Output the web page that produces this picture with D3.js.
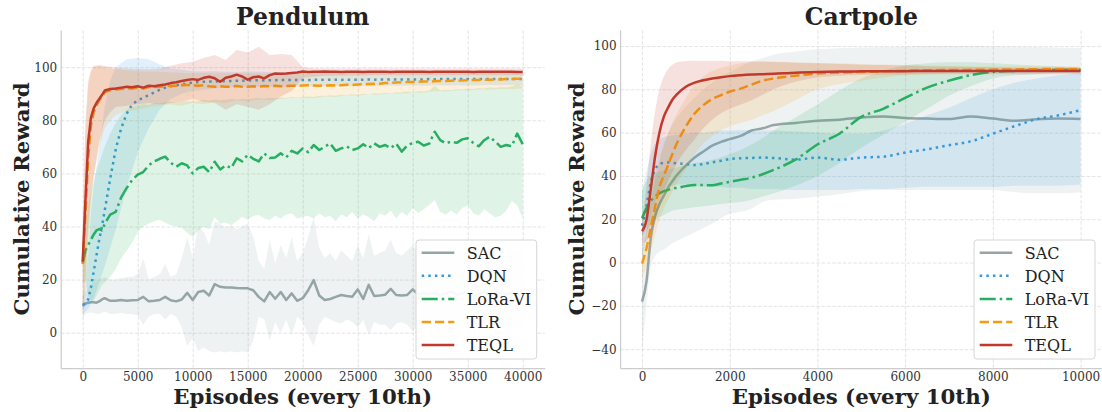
<!DOCTYPE html>
<html><head><meta charset="utf-8">
<script src="https://cdn.jsdelivr.net/npm/d3@7"></script>
<style>body{margin:0;background:#fff;} svg{display:block;}</style>
</head><body>
<svg id="chart" width="1102" height="412"></svg>
<script>
// ---------------- DATA ----------------
const SERIES = ["SAC", "DQN", "LoRa-VI", "TLR", "TEQL"];

// Pendulum
const P_X = [0,250,500,750,1000,1250,1500,1750,2000,
 2500,3000,3500,4000,4500,5000,5500,6000,6500,7000,7500,8000,8500,9000,9500,10000,
 10500,11000,11500,12000,12500,13000,13500,14000,14500,15000,15500,16000,16500,17000,17500,18000,18500,19000,19500,20000,
 20500,21000,21500,22000,22500,23000,23500,24000,24500,25000,25500,26000,26500,27000,27500,28000,28500,29000,29500,30000,
 30500,31000,31500,32000,32500,33000,33500,34000,34500,35000,35500,36000,36500,37000,37500,38000,38500,39000,39500,40000];
const PB_X = [0,250,500,750,1000,1500,2000,2500,3000,
 4000,5000,6000,7000,8000,9000,10000,11000,12000,13000,14000,15000,16000,17000,18000,19000,20000,
 21000,22000,23000,24000,25000,26000,27000,28000,29000,30000,31000,32000,33000,34000,35000,36000,37000,38000,39000,40000];

const P_SAC = [10,11,11.3,11.5,11.5,11.3,11.8,12.5,13,
 12,12,12.3,12,12.2,12.3,13.5,11.8,12,12.3,13.5,12.2,11.8,12.5,15,12.3,
 15.3,15.8,14,18.3,17.3,17,17,16.8,16.7,16.7,16,13.5,11.8,15.3,12.8,15.3,12.3,14.8,12,13,
 16,19.8,14,12.3,12.7,13.5,14.2,13.8,13.5,16.3,12.7,18,13.8,14,14.3,16.5,14.2,14,14.2,16.3,
 14.5,15,14.5,15,14.2,14.8,15.5,14.3,14.8,15.2,14,14.6,15.3,14.2,14.8,15,14.3,14.9,14.5,14.8];
const P_SAC_LO = [5,7,7.5,7.5,7.5,7,7,7.5,8,
 7,7,7.5,7,7,6.5,3,6,7,7,5,7,6,2,-5,-2,
 -7,-5.5,-7,-7.5,-7,-7.5,-7,-7.5,-7,-7.5,-3,6,5,-3,4,0,5,-1,6,4,
 -1,-5,3,6,5,4,3.5,5,4,2,5,-1,4,3,3,1,3.5,4,3,0.5,
 3,2,3.5,1,3,2.5,1.5,3,2,1,3,2.5,1.5,3,2,1,2.5,2,1.5,2];
const P_SAC_HI = [14,15,17,18,19,19.5,20,20.5,21,
 20,20,20.5,21,21,22,28,20,21,22,26,21,22,28,36,28,
 40,38,33,42,41,39.5,40.5,39,40,41,36,27,24,35,26,33,28,36,27,30,
 36,43.7,32,28,30,27,31,29,27,33,28,37,29,30,31,35,30,29,31,33,
 30,31,29,32,30,31,33,29,31,30,32,29,31,33,30,31,29,32,30,31];

const P_DQN = [10.5,11,12.5,17,23,29,35,40,46,
 58,69,77,82.5,86,87.5,88.5,89.5,90.5,91.5,92.3,92.8,93.2,93.6,93.9,94.2,
 94.4,94.5,94.6,94.6,94.7,94.8,94.8,94.9,94.9,95,95,95.1,95,95.1,95.1,95.2,95.1,95.2,95.2,95.2,
 95.2,95.2,95.3,95.2,95.3,95.3,95.2,95.3,95.3,95.3,95.3,95.4,95.3,95.4,95.3,95.4,95.4,95.4,95.4,95.4,
 95.4,95.4,95.5,95.4,95.5,95.5,95.5,95.5,95.5,95.5,95.5,95.5,95.5,95.5,95.5,95.5,95.5,95.5,95.5,95.5];
const P_DQN_LO = [7,8,9,11,13,19,25,32,39,
 55,68,77,84,88,90,91,91.5,92,92.3,92.5,92.4,92.6,92.5,92.7,92.6,92.8,
 92.7,92.8,92.9,92.8,93,92.9,93,93.1,93,93.1,93,93.2,93.1,93.2,93.1,93.2,93.3,93.2,93.3,93.2];
const P_DQN_HI = [14,18,30,45,55,70,85,95,100,
 103,103.5,103,101,99.5,99,98.5,98.4,98.5,98.3,98.2,98.4,98.3,98.2,98.1,98.2,98.1,
 98,98.1,98,97.9,98,97.9,97.9,98,97.8,97.9,97.8,97.9,97.8,97.8,97.9,97.8,97.8,97.7,97.8,97.7];

const P_LORA = [26,31,33,35,37,38.5,39,38.5,41,
 44.5,45.5,51,54.5,57.5,59.5,60.5,63,64.5,65.5,66.3,64,62.5,63.8,63,60,
 62,62.5,60.5,64.4,61.5,63,62,65.7,64.5,67,65.5,64.5,67.5,65.8,66,67.6,66,68.5,67.5,69.4,
 68,70.7,68.8,70,71.3,68.5,69.4,70.2,68.8,69.4,71,69.5,71.3,70,70.7,69.5,71.2,68.2,70.5,71.5,
 71.9,70.5,71.2,75.7,72.5,71.3,72,71.5,72.8,73.2,71.5,70.2,72.5,73.8,72,70,70.7,70.2,75,71];
const P_LORA_LO = [18,20,14,12,12,14,16,18,19,
 21,24,28,31,34,38,40,41,42,42.5,41.5,40.5,40,39.5,37.5,36,
 38.5,40,39,43.5,41,41.5,40.5,42,43.7,42.5,44,44.3,43,42.5,44,43,44.5,45,43,43.7,
 44,43,45,43.5,44,42,44.5,43.5,45.5,43,44.5,43.5,42,45,44,46,43,45.5,44,47,
 45,46.5,48,50,45.5,44.5,46,44.5,47,48,45,44,46.5,45,43.5,44,46,49.5,48,43];
const P_LORA_HI = [34,42,48,53,57,61,64,67,70,
 75,79,82,84,85,85.5,86,85.8,86.5,86.3,86.8,87,86.7,87,87.3,87.1,
 87.3,87.6,87.4,87.8,87.5,87.7,88,87.8,88.1,87.9,88.2,88.4,88.1,88.5,88.3,88.6,88.4,88.8,88.6,88.9,
 89,88.8,89.2,89.1,89.4,89.2,89.6,89.5,89.8,89.6,90,89.8,90.2,90,90.4,90.2,90.6,90.5,90.8,90.6,
 91,90.8,91.2,93,91.3,91.5,91.4,91.8,91.6,92,91.8,92.2,92,92.4,92.2,92.5,92.4,92.7,93.5,92.6];

const P_TLR = [26,45,66,78,83,85.5,87.5,89,90.5,
 91.3,91.6,91.8,92,92,92.3,92,92.5,92.5,92.6,92.8,93,93,93.2,93.3,93.3,
 93,93.2,92.8,92.6,92.8,92.6,92.7,92.9,92.6,92.6,92.8,92.7,92.9,92.8,93,92.8,92.9,93,93,93.1,
 93.2,93.1,93,93.1,93.2,93.1,93.2,93.4,93.3,93.5,93.6,93.7,93.8,93.8,94,94.1,94.2,94.3,94.4,94.4,
 94.5,94.6,94.6,94.7,94.8,94.8,94.9,95,95,95.1,95.2,95.2,95.3,95.3,95.4,95.4,95.5,95.5,95.6,95.6];
const P_TLR_LO = [6,15,35,50,60,70,77,80,82,
 83.5,84,85,85.5,86,85.5,86.5,86,87,86.5,87.5,87,87.8,87.5,88,88.4,88.5,
 88.3,89,88.8,89.4,89.2,89.8,89.6,90.2,90,90.5,90.4,91,90.8,91.3,91.2,91.6,91.5,91.8,91.7,92];
const P_TLR_HI = [40,75,93,98,100,100.5,100,99.5,99.2,
 98.8,98.5,98.3,98.3,98,97.8,97.7,97.8,97.6,97.7,97.6,97.7,97.6,97.6,97.7,97.6,97.6,
 97.6,97.5,97.6,97.5,97.6,97.5,97.5,97.6,97.5,97.5,97.6,97.5,97.5,97.5,97.6,97.5,97.5,97.5,97.5,97.5];

const P_TEQL = [26.7,50,72,81,84.5,86.5,88,89.5,91.2,
 91.8,92,92.3,92.6,92.4,92.8,92.3,93,92.8,93.2,93.5,94,94.3,94.8,95.2,95.5,
 95.2,96,96.4,95.8,94.5,96,96.5,97.2,96.5,95.3,96.2,96.5,95.8,97,97.6,97.5,97.6,97.8,98,98.4,
 98.2,98.3,98.3,98.4,98.3,98.3,98.2,98.3,98.3,98.3,98.2,98.3,98.3,98.3,98.3,98.2,98.3,98.3,98.3,98.3,
 98.3,98.3,98.2,98.3,98.3,98.3,98.3,98.3,98.3,98.3,98.2,98.3,98.3,98.3,98.3,98.3,98.3,98.3,98.2,98.2];
const P_TEQL_LO = [8,20,40,52,58,72,80,83,85,
 85.5,86,86.5,86,86.5,87,88,87,86.5,84,86,85,84,86,89,91,96,
 96.5,96.8,96.8,96.9,96.9,97,97,97,97,97,97,97,97,97,97,97,97,97,97,97];
const P_TEQL_HI = [45,80,95,99,100.5,100.8,100.5,100.2,99.8,
 99.5,99.3,99.2,99.5,100.5,101.5,102,103.5,104.6,102.7,106.5,105.5,107.7,104.6,105,104.6,100,
 99.6,99.5,99.5,99.5,99.5,99.5,99.5,99.5,99.5,99.5,99.5,99.5,99.5,99.5,99.5,99.5,99.5,99.5,99.5,99.5];

// Cartpole
const C_X = [0,100,200,300,400,500,600,700,800,1000,1200,1400,1600,1800,2000,2250,2500,2750,
 3000,3500,4000,4500,5000,5500,6000,6500,7000,7500,8000,8500,9000,9500,10000];

const C_SAC = [-18,-9,11.5,21.5,27,31,34.8,37.8,40.5,44.8,48.5,51.3,54,55.7,57,58.5,61,62,
 63.5,64.5,65.5,66,67,67.5,66.8,66.5,66.3,67.5,66.5,65.5,66.2,66.5,66.3];
const C_SAC_LO = [-41,-20,-2,3,5,6,7.5,9,10,12,14,16,18,20.5,22.5,23.5,25,28,
 29,29.5,30.5,31.5,33,33.5,33.5,33.5,33.5,33.5,33.5,32.5,32,32,32.5];
const C_SAC_HI = [8,14,28,40,48,55,60,64,67,72,76,80,83,86,88,90.5,93,94.5,
 96,97.5,98.5,99,99.3,99.5,99.7,100,100,100,99.8,99.7,99.5,99.3,99];

const C_DQN = [17,26,37,43,45.5,46,46.2,46,45.8,45.5,45,45.5,46.3,47,47.8,48.2,48.3,48.5,
 48.3,47.5,48.5,47.5,48.5,48.9,50.8,52.3,54.2,56,59.5,63,66.2,68,70.4];
const C_DQN_LO = [2,12,22,28,32,34,35,35.5,36,36,35.5,35,35,35,34.5,34.5,34,34,
 34,33.5,33.5,33.5,34,34,34.5,35,35,35,35,35.5,35.5,35.5,36];
const C_DQN_HI = [33,42,50,55,57,58,58.5,58.7,59,59.5,60,60,60.5,61,61,61.2,61.2,61,
 61,60.5,60,59.5,59.5,61,64,68,71.5,76,80,83,85,86.5,87.5];

const C_LORA = [20.5,25,28.5,30.5,32,33,33.6,34.2,34.5,35.3,35.8,35.8,35.7,36.5,37.3,38.2,39.2,40.8,
 42.8,47.5,54.5,59.5,67.3,71,76,80.8,84,86.6,88.1,88.5,88.8,89,89];
const C_LORA_LO = [12,15,17.5,19.5,21,22,23,24,24.5,25,25.5,26,26.5,27,27.5,28,29,30.5,
 32,35.5,40,46,53,59,65,71,77,81.5,85,86.5,87,87.5,87.5];
const C_LORA_HI = [33,38,40,41,42,42.5,43,43.5,44,45,46,46.5,47.5,48.5,50,52,54.5,57.5,
 61,67,73,79.5,85,88.5,91,92,92.5,92.5,92,91.5,91,90.5,90];

const C_TLR = [-0.5,6.5,16,26,35,40.2,45.3,50.5,55.3,62.8,68.8,72.7,75.5,77.3,78.9,80.3,82.2,84,
 85,86.3,87.3,87.7,88,88.3,88.6,88.8,88.9,89,89.1,89.2,89.3,89.4,89.4];
const C_TLR_LO = [-7,-2,5,13,20,25,29,33,37,43,50,55,58.5,61,63,64.5,66,68,
 70,75,80,82.5,84,85.5,86.5,87,87.5,87.8,88,88.2,88.3,88.4,88.4];
const C_TLR_HI = [5,14,27,38,47,54,60,65,69,76,82,86,88.5,90,91,92,92.5,92.8,
 92.8,92.5,92.2,92,91.7,91.5,91.2,91,90.8,90.7,90.5,90.5,90.5,90.5,90.5];

const C_TEQL = [14.5,19.5,34,49.3,60.3,67.5,71.8,75.4,77.8,81.2,83.1,84.2,85,85.6,86.1,86.5,86.8,87,
 87.2,87.7,88,88.2,88.3,88.4,88.4,88.5,88.5,88.5,88.5,88.5,88.5,88.5,88.5];
const C_TEQL_LO = [9,10,14,20,27,33,38,42,46,52,57,62,66,69,71,73,75,77.5,
 80,83.5,85.5,86.3,86.6,86.8,86.9,87,87,87,87,87,87,87,87];
const C_TEQL_HI = [20,35,55,70,80,86,89.5,91.5,92.5,93,93.2,93.2,93.2,93.2,93,93,93,92.8,
 92.6,92.3,92,91.7,91.4,91.2,91,90.7,90.5,90.3,90.2,90,90,90,90];

const P_XTICKS = [0,5000,10000,15000,20000,25000,30000,35000,40000];
const P_YTICKS = [0,20,40,60,80,100];
const C_XTICKS = [0,2000,4000,6000,8000,10000];
const C_YTICKS = [-40,-20,0,20,40,60,80,100];

// ---------------- STYLE ----------------
const COLORS = {"SAC":"#95a5a6","DQN":"#3498db","LoRa-VI":"#27ae60","TLR":"#f39c12","TEQL":"#c0392b"};
const DASH = {"SAC":null,"DQN":"2.5,4.1","LoRa-VI":"16,4,2.5,4","TLR":"9.25,4","TEQL":null};
const FONT = "'DejaVu Serif', serif";

const svg = d3.select("#chart");

function panel(cfg) {
  const x = d3.scaleLinear().domain(cfg.xDomain).range([cfg.left, cfg.right]);
  const y = d3.scaleLinear().domain(cfg.yDomain).range([cfg.bottom, cfg.top]);
  const g = svg.append("g");
  const H = cfg.bottom - cfg.top, W = cfg.right - cfg.left;

  svg.append("clipPath").attr("id", "clip-" + cfg.id)
    .append("rect").attr("x", cfg.left).attr("y", cfg.top).attr("width", W).attr("height", H);

  // grid
  g.append("g").attr("transform", `translate(0,${cfg.bottom})`)
    .call(d3.axisBottom(x).tickValues(cfg.xTicks).tickSize(-H).tickFormat(""))
    .call(a => { a.select(".domain").remove();
      a.selectAll("line").attr("stroke", "#dddddd").attr("stroke-width", 0.8).attr("stroke-dasharray", "3.7,1.6"); });
  g.append("g").attr("transform", `translate(${cfg.left},0)`)
    .call(d3.axisLeft(y).tickValues(cfg.yTicks).tickSize(-W).tickFormat(""))
    .call(a => { a.select(".domain").remove();
      a.selectAll("line").attr("stroke", "#dddddd").attr("stroke-width", 0.8).attr("stroke-dasharray", "3.7,1.6"); });

  const plot = g.append("g").attr("clip-path", `url(#clip-${cfg.id})`);
  cfg.series.forEach(s => {
    const area = d3.area()
      .x((d, i) => x(s.bx[i])).y0((d, i) => y(s.lo[i])).y1((d, i) => y(s.hi[i]))
      .curve(cfg.curve);
    plot.append("path").datum(s.lo).attr("d", area)
      .attr("fill", COLORS[s.name]).attr("fill-opacity", 0.15).attr("stroke", "none");
    const line = d3.line().x((d, i) => x(s.x[i])).y(d => y(d)).curve(cfg.curve);
    plot.append("path").datum(s.mean).attr("d", line)
      .attr("fill", "none").attr("stroke", COLORS[s.name]).attr("stroke-width", 2.5)
      .attr("stroke-dasharray", DASH[s.name]).attr("stroke-linejoin", "round");
  });

  // axes
  const fmt = d => d < 0 ? "\u2212" + Math.abs(d) : String(d);
  const xa = g.append("g").attr("transform", `translate(0,${cfg.bottom})`)
    .call(d3.axisBottom(x).tickValues(cfg.xTicks).tickSize(0).tickSizeOuter(0).tickPadding(4).tickFormat(fmt));
  const ya = g.append("g").attr("transform", `translate(${cfg.left},0)`)
    .call(d3.axisLeft(y).tickValues(cfg.yTicks).tickSize(0).tickSizeOuter(0).tickPadding(3.5).tickFormat(fmt));
  [xa, ya].forEach(a => {
    a.attr("font-family", FONT).attr("font-size", 12);
    a.select(".domain").attr("stroke", "#cccccc").attr("stroke-width", 1.25);
    a.selectAll("text").attr("fill", "#333333");
  });

  // titles
  g.append("text").attr("x", (cfg.left + cfg.right) / 2).attr("y", 25)
    .attr("text-anchor", "middle").attr("font-family", FONT).attr("font-weight", "bold")
    .attr("font-size", 23.5).attr("fill", "#222").text(cfg.title);
  g.append("text").attr("x", (cfg.left + cfg.right) / 2).attr("y", 404)
    .attr("text-anchor", "middle").attr("font-family", FONT).attr("font-weight", "bold")
    .attr("font-size", 21.3).attr("fill", "#222").text("Episodes (every 10th)");
  g.append("text").attr("transform", `translate(${cfg.ylabX},${(cfg.top + cfg.bottom) / 2}) rotate(-90)`)
    .attr("text-anchor", "middle").attr("font-family", FONT).attr("font-weight", "bold")
    .attr("font-size", 21.3).attr("fill", "#222").text("Cumulative Reward");

  // legend
  const L = cfg.legend;
  const lg = g.append("g");
  lg.append("rect").attr("x", L.x).attr("y", L.y).attr("width", L.w).attr("height", L.h)
    .attr("rx", 3).attr("fill", "#ffffff").attr("fill-opacity", 0.92)
    .attr("stroke", "#d6d6d6").attr("stroke-width", 1);
  SERIES.forEach((name, i) => {
    const cy = L.y + 12.7 + i * 23.1;
    lg.append("line").attr("x1", L.x + 5.7).attr("x2", L.x + 38.3).attr("y1", cy).attr("y2", cy)
      .attr("stroke", COLORS[name]).attr("stroke-width", 2.5).attr("stroke-dasharray", DASH[name]);
    lg.append("text").attr("x", L.x + 50.7).attr("y", cy + 5.8)
      .attr("font-family", FONT).attr("font-size", 16).attr("fill", "#222").text(name);
  });
}

panel({
  id: "pend", title: "Pendulum",
  left: 60.7, right: 544.7, top: 30, bottom: 368,
  xDomain: [-2000, 42000], yDomain: [-13.3, 114],
  xTicks: P_XTICKS, yTicks: P_YTICKS, curve: d3.curveLinear, ylabX: 28.5,
  legend: {x: 416, y: 240, w: 120.7, h: 119},
  series: [
    {name: "SAC", x: P_X, mean: P_SAC, bx: P_X, lo: P_SAC_LO, hi: P_SAC_HI},
    {name: "DQN", x: P_X, mean: P_DQN, bx: PB_X, lo: P_DQN_LO, hi: P_DQN_HI},
    {name: "LoRa-VI", x: P_X, mean: P_LORA, bx: P_X, lo: P_LORA_LO, hi: P_LORA_HI},
    {name: "TLR", x: P_X, mean: P_TLR, bx: PB_X, lo: P_TLR_LO, hi: P_TLR_HI},
    {name: "TEQL", x: P_X, mean: P_TEQL, bx: PB_X, lo: P_TEQL_LO, hi: P_TEQL_HI}
  ]
});

panel({
  id: "cart", title: "Cartpole",
  left: 620.1, right: 1102.5, top: 30, bottom: 368,
  xDomain: [-500, 10500], yDomain: [-48.7, 107.4],
  xTicks: C_XTICKS, yTicks: C_YTICKS, curve: d3.curveMonotoneX, ylabX: 584,
  legend: {x: 974, y: 240, w: 121, h: 119},
  series: [
    {name: "SAC", x: C_X, mean: C_SAC, bx: C_X, lo: C_SAC_LO, hi: C_SAC_HI},
    {name: "DQN", x: C_X, mean: C_DQN, bx: C_X, lo: C_DQN_LO, hi: C_DQN_HI},
    {name: "LoRa-VI", x: C_X, mean: C_LORA, bx: C_X, lo: C_LORA_LO, hi: C_LORA_HI},
    {name: "TLR", x: C_X, mean: C_TLR, bx: C_X, lo: C_TLR_LO, hi: C_TLR_HI},
    {name: "TEQL", x: C_X, mean: C_TEQL, bx: C_X, lo: C_TEQL_LO, hi: C_TEQL_HI}
  ]
});
</script>
</body></html>
